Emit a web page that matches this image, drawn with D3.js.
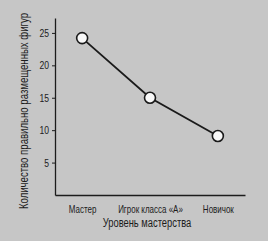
<!DOCTYPE html>
<html><head><meta charset="utf-8">
<script src="https://cdn.jsdelivr.net/npm/d3@7"></script>
<style>
html,body{margin:0;padding:0;background:#c6c6c6;}
svg{display:block;}
text{font-family:"Liberation Sans",Arial,sans-serif;fill:#1c1c1c;}
</style></head>
<body>
<script>
const categories = ["Мастер", "Игрок класса «А»", "Новичок"];
const values = [24.2, 15, 9.1];
const yTicks = [5, 10, 15, 20, 25];
const xTitle = "Уровень мастерства";
const yTitle = "Количество правильно размещенных фигур";

const W = 268, H = 241;
const svg = d3.select("body").append("svg").attr("width", W).attr("height", H);
svg.append("rect").attr("width", W).attr("height", H).attr("fill", "#c6c6c6");

const x = d3.scalePoint().domain(categories).range([55, 245]).padding(0.4);
const y = d3.scaleLinear().domain([0, 27.3]).range([195, 18]);

function narrow(sel, f) {
  sel.each(function() {
    const L = this.getComputedTextLength();
    d3.select(this).attr("textLength", L * f).attr("lengthAdjust", "spacingAndGlyphs");
  });
}

// y axis
const ya = svg.append("g").attr("transform", "translate(55,0)")
  .call(d3.axisLeft(y).tickValues(yTicks).tickSize(3).tickSizeOuter(0).tickPadding(3));
ya.select(".domain").attr("stroke", "#1c1c1c").attr("stroke-width", 1.3);
ya.selectAll(".tick line").attr("stroke", "#1c1c1c");
ya.selectAll(".tick text").attr("font-size", 11).attr("fill", "#1c1c1c")
  .style("font-family", '"Liberation Sans",Arial,sans-serif');
narrow(ya.selectAll(".tick text"), 0.78);

// x axis
const xa = svg.append("g").attr("transform", "translate(0,195)")
  .call(d3.axisBottom(x).tickSize(0).tickSizeOuter(0).tickPadding(11));
xa.select(".domain").attr("stroke", "#1c1c1c").attr("stroke-width", 1.3);
xa.selectAll(".tick text").attr("font-size", 10.5).attr("fill", "#1c1c1c")
  .style("font-family", '"Liberation Sans",Arial,sans-serif');
narrow(xa.selectAll(".tick text"), 0.76);

// titles
const xt = svg.append("text").attr("x", 147).attr("y", 227).attr("text-anchor", "middle")
  .attr("font-size", 12).text(xTitle);
narrow(xt, 0.78);
const yt = svg.append("text").attr("transform", "translate(28,111) rotate(-90) scale(0.8,1)")
  .attr("text-anchor", "middle").attr("font-size", 12).text(yTitle);

// line
const line = d3.line().x((d, i) => x(categories[i])).y(d => y(d));
svg.append("path").datum(values).attr("d", line)
  .attr("fill", "none").attr("stroke", "#1a1a1a").attr("stroke-width", 1.8);
svg.selectAll("circle.pt").data(values).join("circle").attr("class", "pt")
  .attr("cx", (d, i) => x(categories[i])).attr("cy", d => y(d)).attr("r", 5.5)
  .attr("fill", "#f8f8f8").attr("stroke", "#1a1a1a").attr("stroke-width", 1.6);
</script>
</body></html>
